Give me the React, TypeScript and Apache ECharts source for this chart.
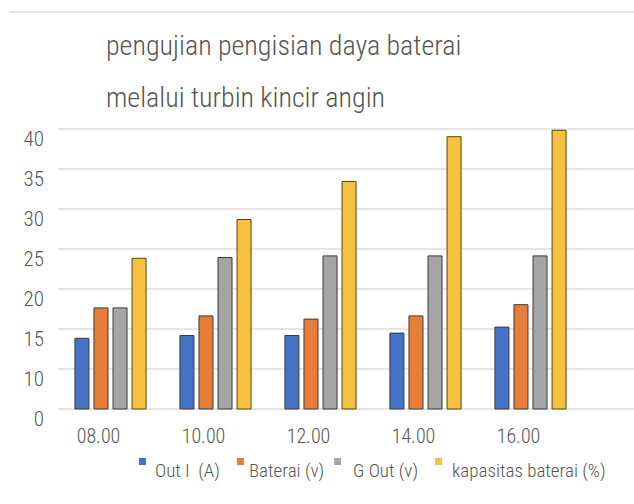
import React, { useEffect, useRef } from "react";
import * as echarts from "echarts";

const categories = ["08.00", "10.00", "12.00", "14.00", "16.00"];
const outI = [13.9, 14.25, 14.25, 14.55, 15.3];
const baterai = [17.7, 16.7, 16.3, 16.7, 18.1];
const gOut = [17.7, 24.0, 24.2, 24.2, 24.2];
const kapasitas = [23.9, 28.75, 33.5, 39.1, 39.9];
const yTicks = [5, 10, 15, 20, 25, 30, 35, 40];
const yTickLabels = ["0", "10", "15", "20", "25", "30", "35", "40"];
const seriesNames = ["Out I  (A)", "Baterai (v)", "G Out (v)", "kapasitas baterai (%)"];
const colors = ["#4672C6", "#E87D37", "#A5A5A5", "#F6C13E"];

const FONT = "'Roboto Condensed', 'DejaVu Sans Condensed', sans-serif";
const legendPads = [
  [0, 7, 0, 4],
  [0, 0, 0, 0],
  [0, 7, 0, 7],
  [0, 0, 0, 5],
];
const legendIcon = "path://M0,0L10,0L10,10L0,10Z M0,36L0.01,36L0.01,36.01Z";

export default function App() {
  const ref = useRef<HTMLDivElement>(null);
  useEffect(() => {
    if (!ref.current) return;
    const chart = echarts.init(ref.current, undefined, { renderer: "svg" });
    const values = [outI, baterai, gOut, kapasitas];
    const yBase = { type: "value", min: 5, max: 40, interval: 5 };
    chart.setOption({
      animation: false,
      backgroundColor: "#fff",
      title: {
        text: "pengujian pengisian daya baterai\nmelalui turbin kincir angin",
        left: 101,
        top: 14,
        textStyle: {
          fontFamily: FONT,
          fontSize: 28,
          fontWeight: 300,
          color: "#555",
          lineHeight: 52,
        },
      },
      legend: {
        left: 139,
        top: 458,
        padding: 0,
        itemWidth: 7,
        itemHeight: 25,
        itemGap: 10,
        icon: legendIcon,
        textStyle: {
          fontFamily: FONT,
          fontSize: 19,
          fontWeight: 300,
          lineHeight: 20,
          color: "#555",
        },
        data: seriesNames.map((n, i) => ({
          name: n,
          itemStyle: { color: colors[i], borderWidth: 0 },
          textStyle: { padding: legendPads[i] },
        })),
      },
      graphic: [
        {
          type: "line",
          shape: { x1: 9, y1: 12, x2: 634, y2: 12 },
          style: { stroke: "#ddd", lineWidth: 1.5 },
        },
      ],
      grid: [
        { left: 58, right: 51, top: 129, bottom: 95 },
        { left: 58, right: 0, top: 129, bottom: 95 },
      ],
      xAxis: [
        {
          type: "category",
          gridIndex: 0,
          data: categories,
          axisLine: { show: false },
          axisTick: { show: false },
          axisLabel: {
            fontFamily: FONT,
            fontSize: 20,
            fontWeight: 300,
            lineHeight: 20,
            color: "#555",
            margin: 17,
            padding: [0, 24, 0, 0],
          },
        },
        { type: "value", gridIndex: 1, show: false },
      ],
      yAxis: [
        {
          ...yBase,
          gridIndex: 0,
          axisLine: { show: false },
          axisTick: { show: false },
          splitLine: { show: false },
          axisLabel: {
            fontFamily: FONT,
            fontSize: 21,
            fontWeight: 300,
            lineHeight: 20,
            color: "#555",
            margin: 14,
            verticalAlign: "top",
            formatter: (v: number) => {
              const i = yTicks.indexOf(v);
              return i >= 0 ? yTickLabels[i] : "";
            },
          },
        },
        {
          ...yBase,
          gridIndex: 1,
          axisLine: { show: false },
          axisTick: { show: false },
          axisLabel: { show: false },
          splitLine: { lineStyle: { color: "#dcdcdc", width: 1.5 } },
        },
      ],
      series: seriesNames.map((n, i) => ({
        name: n,
        type: "bar",
        xAxisIndex: 0,
        yAxisIndex: 0,
        data: values[i],
        barWidth: 15,
        barGap: "27%",
        itemStyle: {
          color: colors[i],
          borderColor: i === 3 ? "#5a4310" : "#3a3a3a",
          borderWidth: 1,
        },
      })),
    });
    return () => chart.dispose();
  }, []);
  return (
    <div
      ref={ref}
      style={{ position: "fixed", left: 0, top: 0, width: 634, height: 504 }}
    />
  );
}
